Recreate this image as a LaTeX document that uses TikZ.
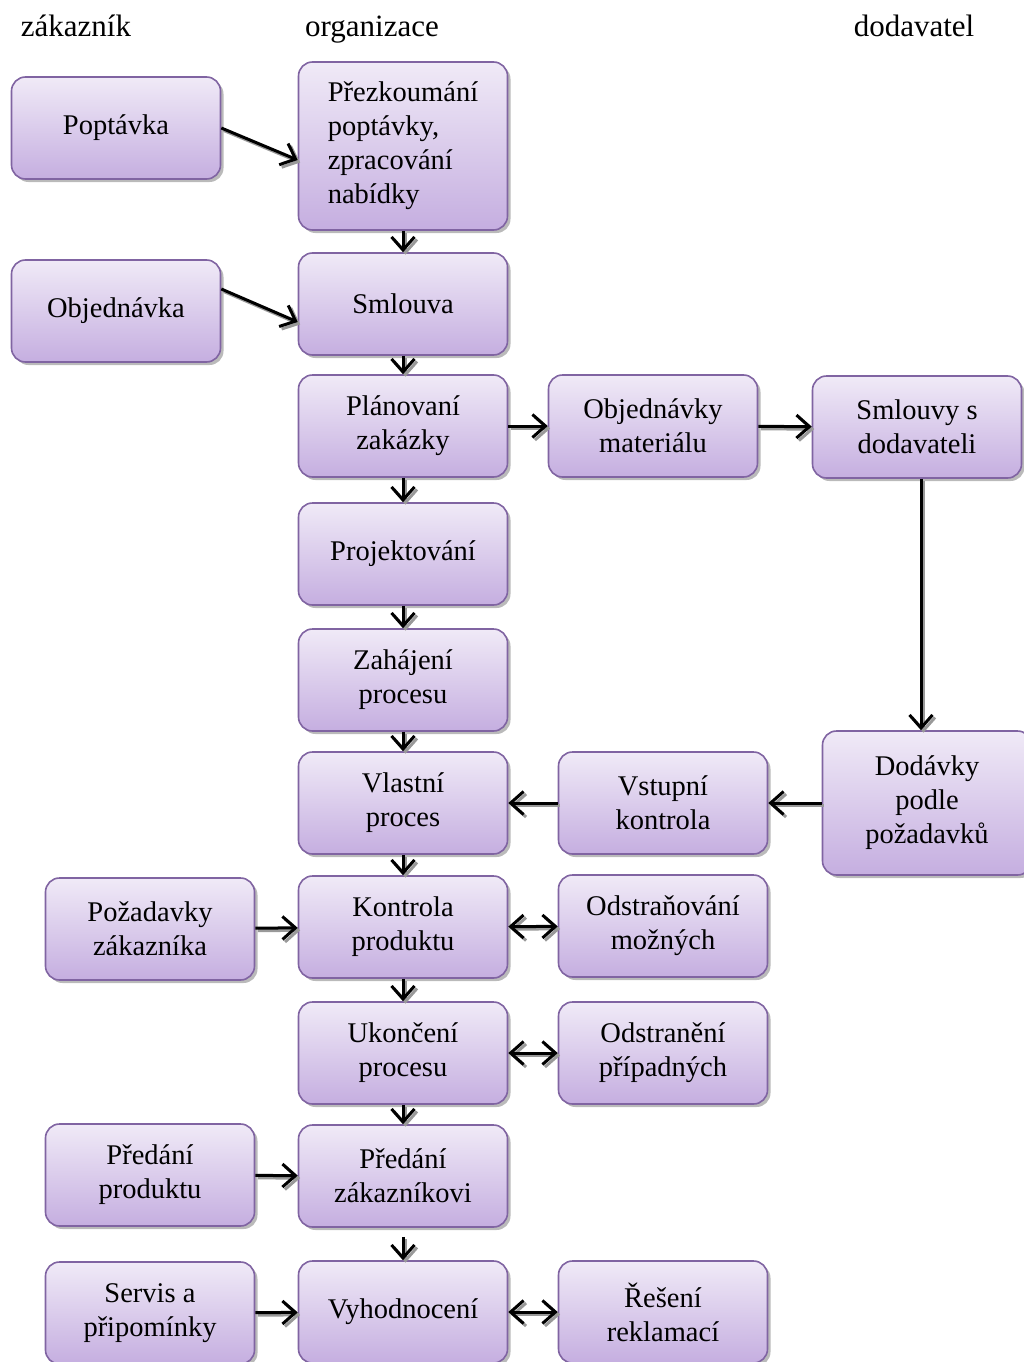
\documentclass[tikz,border=0pt]{standalone}
\usepackage{fontspec}
\setmainfont{Liberation Serif}
\usetikzlibrary{arrows.meta,shadows}
\definecolor{boxline}{HTML}{8064A2}
\definecolor{boxtop}{HTML}{F0EAF7}
\definecolor{boxbot}{HTML}{C5AEE0}
\tikzset{
  centered/.style = { align=center, anchor=center },
    header/.style = { font=\fontsize{31}{36}\selectfont, anchor=base },
       box/.style = { font=\fontsize{28.5}{34}\selectfont, centered,
                      minimum width=209pt, minimum height=102pt, inner sep=0pt,
                      rounded corners=14pt, draw=boxline, line width=1.6pt,
                      top color=boxtop, bottom color=boxbot,
                      drop shadow={shadow xshift=3pt, shadow yshift=-3pt, opacity=0.45, fill=black!60} },
       tip/.style = { -{Straight Barb[length=13pt,width=23pt,line width=3pt]} },
   ashadow/.style = { draw=black!40, transform canvas={shift={(2.5pt,-2.5pt)}} },
     arrow/.style = { line width=3pt, tip },
    darrow/.style = { line width=3pt,
                      {Straight Barb[length=13pt,width=23pt,line width=3pt]}-{Straight Barb[length=13pt,width=23pt,line width=3pt]} },
}

\begin{document}
\begin{tikzpicture}[x=1pt,y=-1pt]
  \useasboundingbox (0,0) rectangle (1024,1362);
  % headers
  \node [header] (hzak) at (76,37)  {zákazník};
  \node [header] (horg) at (372,37) {organizace};
  \node [header] (hdod) at (914,37) {dodavatel};
  % zakaznik
  \node [box] (poptavka)  at (116,128)  {Poptávka};
  \node [box] (objednavka) at (116,311) {Objednávka};
  \node [box] (pozadavky) at (150,929)  {Požadavky\\zákazníka};
  \node [box] (predprod)  at (150,1175) {Předání\\produktu};
  \node [box] (servis)    at (150,1313) {Servis a\\připomínky};
  % organizace
  \node [box, minimum height=168pt, align=left] (prezkoum) at (403,146)
        {Přezkoumání\\poptávky,\\zpracování\\nabídky};
  \node [box] (smlouva)   at (403,304)  {Smlouva};
  \node [box] (planovani) at (403,426)  {Plánovaní\\zakázky};
  \node [box] (projekt)   at (403,554)  {Projektování};
  \node [box] (zahajeni)  at (403,680)  {Zahájení\\procesu};
  \node [box] (vlastni)   at (403,803)  {Vlastní\\proces};
  \node [box] (kontrola)  at (403,927)  {Kontrola\\produktu};
  \node [box] (ukonceni)  at (403,1053) {Ukončení\\procesu};
  \node [box] (predzak)   at (403,1176) {Předání\\zákazníkovi};
  \node [box] (vyhodnoc)  at (403,1312) {Vyhodnocení};
  % mezi
  \node [box] (objmat)    at (653,426)  {Objednávky\\materiálu};
  \node [box] (vstupni)   at (663,803)  {Vstupní\\kontrola};
  \node [box] (odstranov) at (663,926)  {Odstraňování\\možných};
  \node [box] (odstrane)  at (663,1053) {Odstranění\\případných};
  \node [box] (reseni)    at (663,1312) {Řešení\\reklamací};
  % dodavatel
  \node [box] (smldod)    at (917,427)  {Smlouvy s\\dodavateli};
  \node [box, minimum height=144pt] (dodavky) at (927,803) {Dodávky\\podle\\požadavků};

  \foreach \s in {ashadow,draw} {
    \draw [arrow, \s] (poptavka.east) -- ([yshift=-14pt]prezkoum.west);
    \draw [arrow, \s] ([yshift=22pt]objednavka.east) -- ([yshift=-18pt]smlouva.west);
    \foreach \i/\j in {prezkoum/smlouva,smlouva/planovani,planovani/projekt,projekt/zahajeni,
                       zahajeni/vlastni,vlastni/kontrola,kontrola/ukonceni,ukonceni/predzak} {
      \draw [arrow, \s] (\i.south) -- (\j.north);
    }
    \draw [arrow, \s] ([yshift=-9pt]predzak.south) -- (vyhodnoc.north);
    \foreach \i/\j in {planovani/objmat,objmat/smldod,dodavky/vstupni,vstupni/vlastni,
                       pozadavky/kontrola,predprod/predzak,servis/vyhodnoc} {
      \draw [arrow, \s] (\i) -- (\j);
    }
    \foreach \i/\j in {kontrola/odstranov,ukonceni/odstrane,vyhodnoc/reseni} {
      \draw [darrow, \s] (\i) -- (\j);
    }
    \draw [arrow, \s] ([xshift=4pt]smldod.south) -- ([xshift=4pt]smldod.south |- dodavky.north);
  }
\end{tikzpicture}
\end{document}
